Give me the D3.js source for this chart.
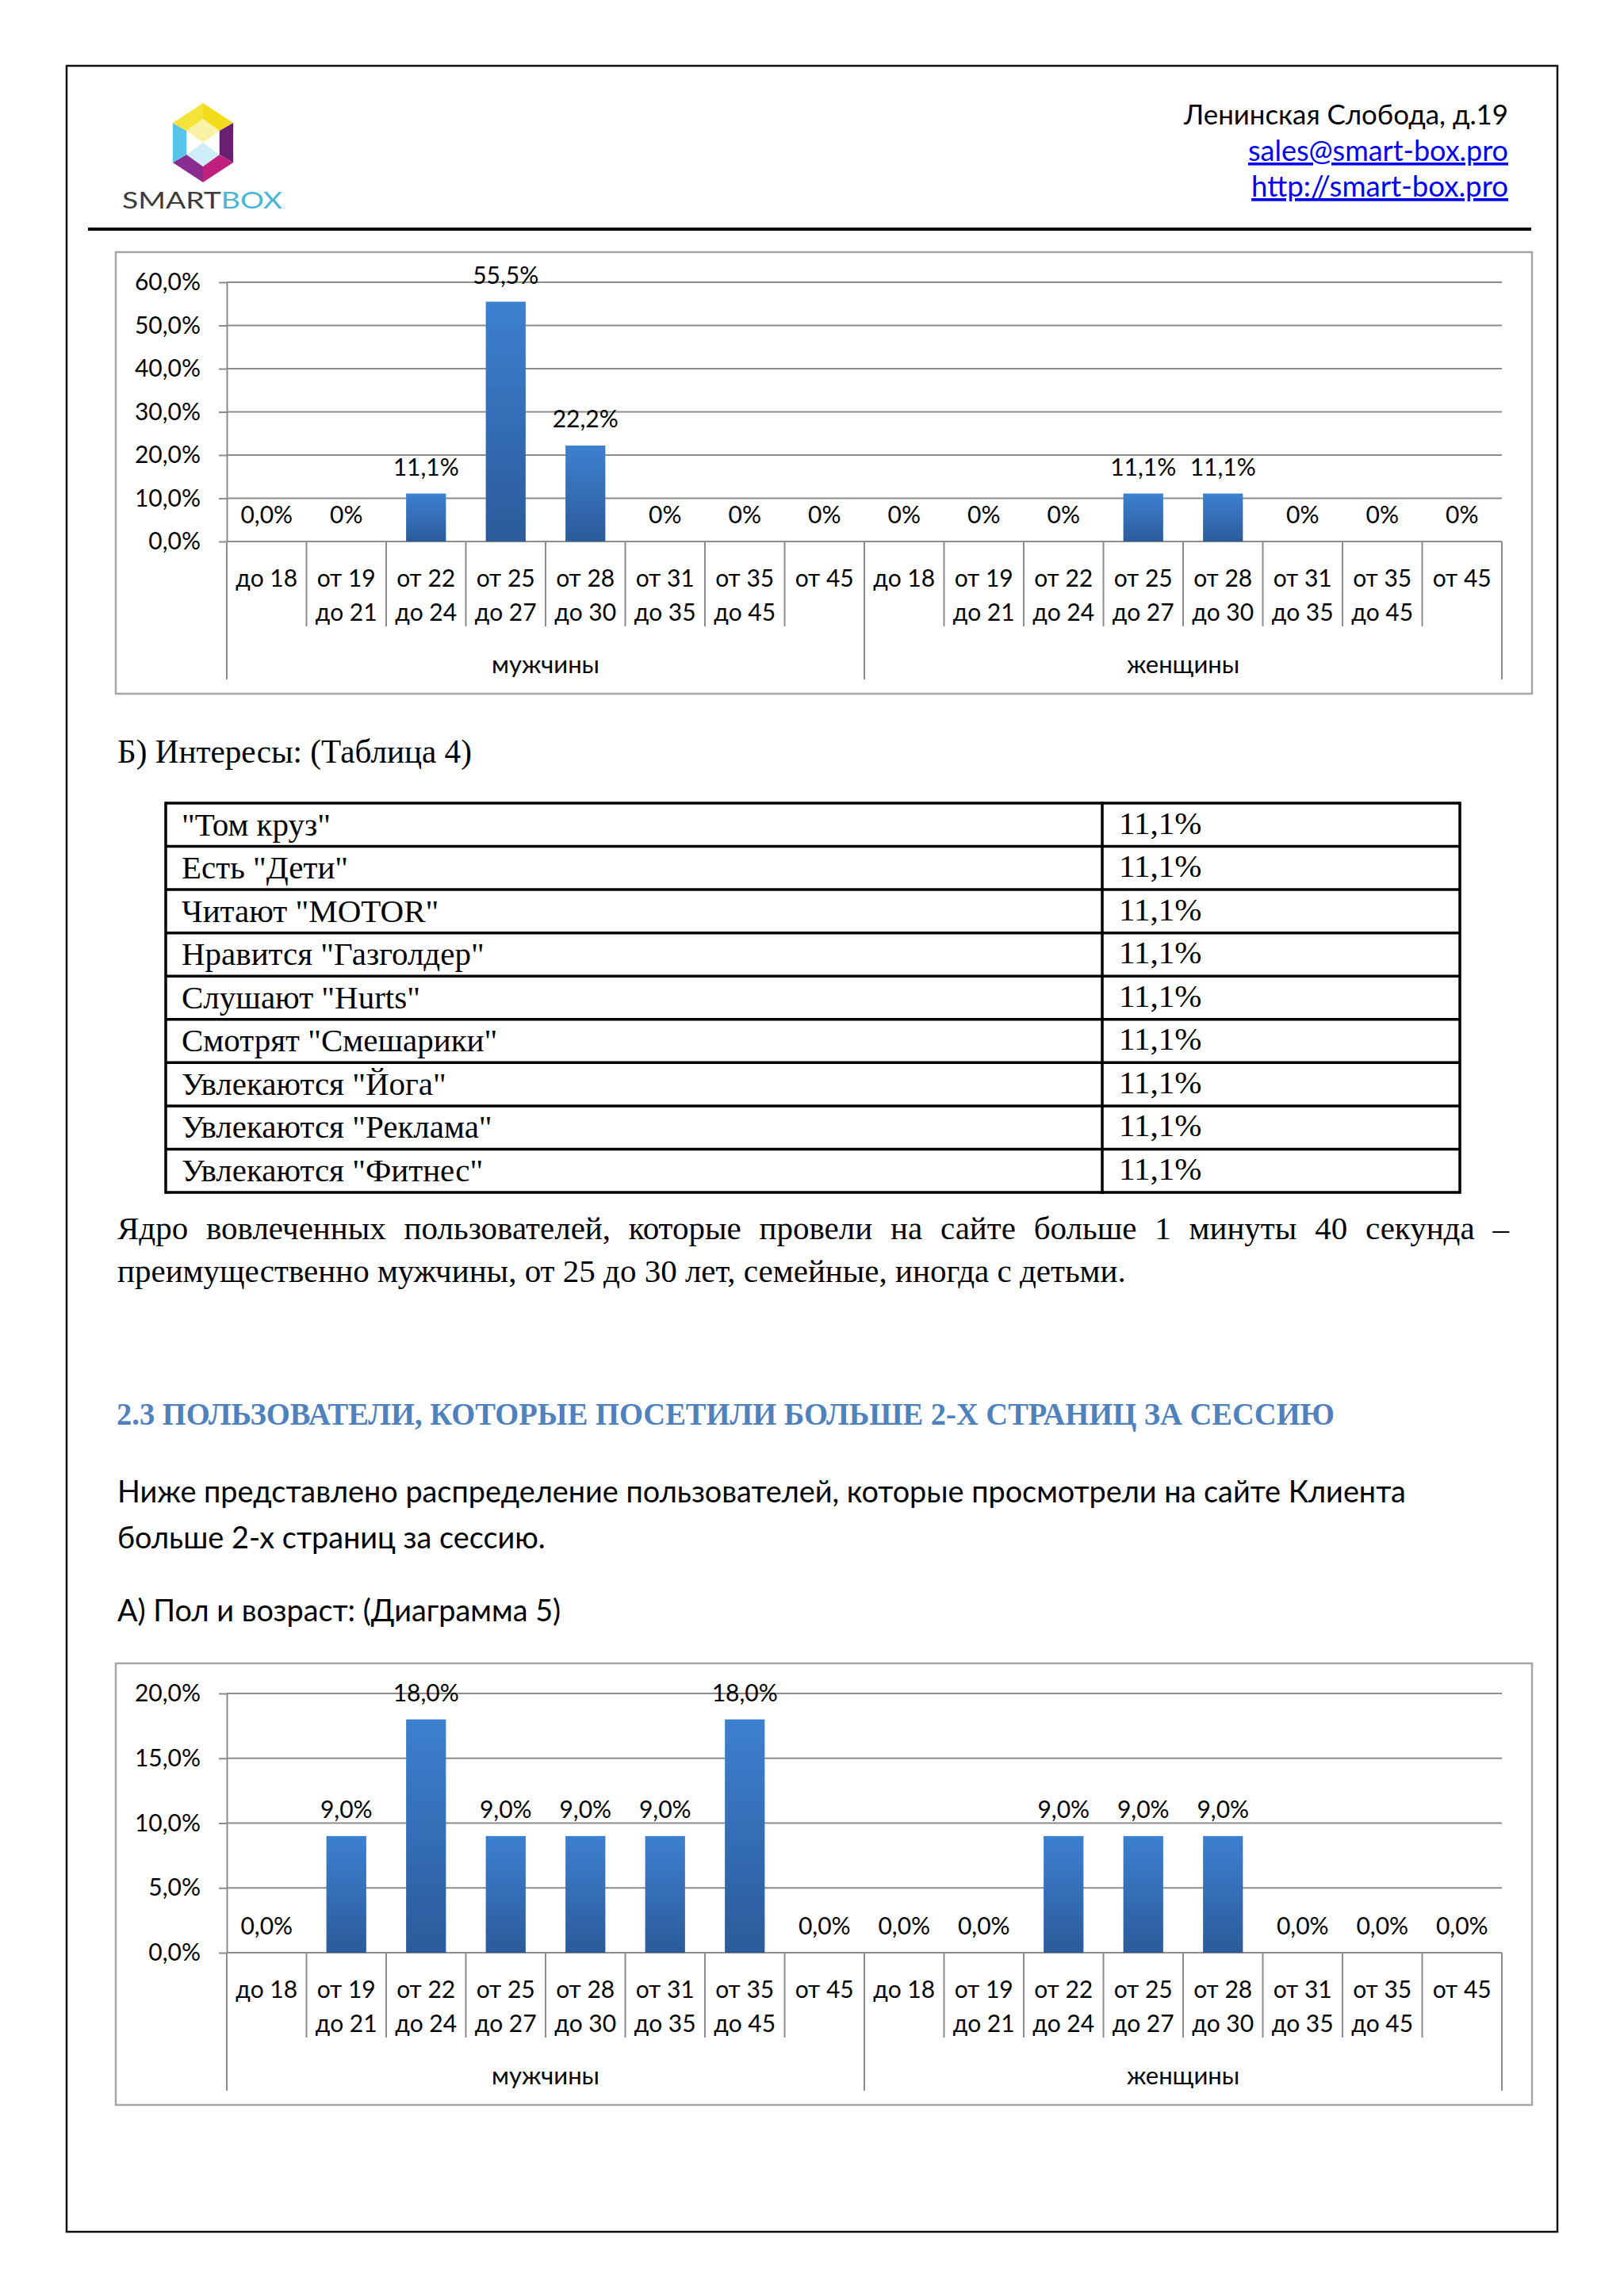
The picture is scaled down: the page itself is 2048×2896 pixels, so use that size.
<!DOCTYPE html>
<html>
<head>
<meta charset="utf-8">
<script src="https://cdn.jsdelivr.net/npm/d3@7"></script>
<style>
  body { margin: 0; background: #fff; }
  svg { display: block; }
</style>
</head>
<body>
<script>
// ---- data ----
const ageLabels = [["до 18"], ["от 19", "до 21"], ["от 22", "до 24"], ["от 25", "до 27"],
                   ["от 28", "до 30"], ["от 31", "до 35"], ["от 35", "до 45"], ["от 45"]];
const groups = ["мужчины", "женщины"];

// Диаграмма 4 (время на сайте > 1:40)
const chart4Men = [0, 0, 11.1, 55.5, 22.2, 0, 0, 0];
const chart4Women = [0, 0, 0, 11.1, 11.1, 0, 0, 0];
const chart4MenLabels = ["0,0%", "0%", "11,1%", "55,5%", "22,2%", "0%", "0%", "0%"];
const chart4WomenLabels = ["0%", "0%", "0%", "11,1%", "11,1%", "0%", "0%", "0%"];
const chart4Ticks = [0, 10, 20, 30, 40, 50, 60];

// Диаграмма 5 (больше 2-х страниц)
const chart5Men = [0, 9, 18, 9, 9, 9, 18, 0];
const chart5Women = [0, 0, 9, 9, 9, 0, 0, 0];
const chart5Ticks = [0, 5, 10, 15, 20];

// Таблица 4
const interests = ['"Том круз"', 'Есть "Дети"', 'Читают "MOTOR"', 'Нравится "Газголдер"',
                   'Слушают "Hurts"', 'Смотрят "Смешарики"', 'Увлекаются "Йога"',
                   'Увлекаются "Реклама"', 'Увлекаются "Фитнес"'];
const interestShares = [11.1, 11.1, 11.1, 11.1, 11.1, 11.1, 11.1, 11.1, 11.1];

const pct = v => d3.format(".1f")(v).replace(".", ",") + "%";

// ---- page ----
const W = 2048, H = 2896;
const SANS = "Lato, 'Open Sans', sans-serif";
const SERIF = "'Liberation Serif', 'DejaVu Serif', serif";
const CHART_FS = 30;

const svg = d3.select("body").append("svg")
  .attr("width", W)
  .attr("height", H);

// подгоняет размер шрифта под нужную ширину строки
const fitWidth = (sel, target) => {
  const w = sel.node().getComputedTextLength();
  const fs = +sel.attr("font-size");
  sel.attr("font-size", (fs * target / w).toFixed(2));
  return +sel.attr("font-size");
};

// выравнивание по ширине за счёт пробелов
const justify = (sel, target) => {
  const w = sel.node().getComputedTextLength();
  const spaces = (sel.text().match(/ /g) || []).length;
  if (spaces) sel.attr("word-spacing", ((target - w) / spaces).toFixed(2));
};

const defs = svg.append("defs");
const grad = defs.append("linearGradient")
  .attr("id", "barGrad")
  .attr("x1", 0).attr("y1", 0).attr("x2", 0).attr("y2", 1);
grad.append("stop").attr("offset", "0%").attr("stop-color", "#3d80d0");
grad.append("stop").attr("offset", "100%").attr("stop-color", "#2b5b9a");

// page border
svg.append("rect")
  .attr("x", 84).attr("y", 83)
  .attr("width", 1880).attr("height", 2732)
  .attr("fill", "none")
  .attr("stroke", "#111")
  .attr("stroke-width", 2.5);

// ---- header ----
const drawLogo = () => {
  const g = svg.append("g").attr("transform", "translate(256,180)");
  const R = 50, r = 30;
  const outer = d3.range(6).map(i => {
    const a = Math.PI / 180 * (60 * i - 90);
    return [R * 0.88 * Math.cos(a), R * Math.sin(a)];
  });
  const inner = d3.range(6).map(i => {
    const a = Math.PI / 180 * (60 * i - 90);
    return [r * 0.8 * Math.cos(a), r * Math.sin(a)];
  });
  const colors = ["#f2dc1c", "#6b1f73", "#c0207d", "#8a2c8f", "#58c3ec", "#f4e43a"];
  colors.forEach((c, i) => {
    const j = (i + 1) % 6;
    g.append("path")
      .attr("d", d3.line()([outer[i], outer[j], inner[j], inner[i]]) + "Z")
      .attr("fill", c);
  });
  g.append("path")
    .attr("d", d3.line()([inner[5], inner[0], inner[1], [0, 0]]) + "Z")
    .attr("fill", "#f6e86a").attr("opacity", 0.6);
  g.append("path")
    .attr("d", d3.line()([inner[2], inner[3], inner[4], [0, 0]]) + "Z")
    .attr("fill", "#9fdcf3").attr("opacity", 0.5);

  const t = svg.append("text")
    .attr("x", 154).attr("y", 263)
    .attr("font-family", SANS)
    .attr("font-size", 29)
    .attr("textLength", 202)
    .attr("lengthAdjust", "spacingAndGlyphs");
  t.append("tspan").attr("fill", "#3b3b3b").text("SMART");
  t.append("tspan").attr("fill", "#49b6d6").text("BOX");
};
drawLogo();

const headerLines = [
  {text: "Ленинская Слобода, д.19", y: 157, color: "#000", link: false, w: 409},
  {text: "sales@smart-box.pro", y: 203, color: "#0000ee", link: true, w: 328},
  {text: "http://smart-box.pro", y: 248, color: "#0000ee", link: true, w: 324}
];
headerLines.forEach(d => {
  const t = svg.append("text")
    .attr("x", 1902).attr("y", d.y)
    .attr("text-anchor", "end")
    .attr("font-family", SANS)
    .attr("font-size", 33)
    .attr("fill", d.color)
    .attr("text-decoration", d.link ? "underline" : null)
    .text(d.text);
  fitWidth(t, d.w);
});

svg.append("line")
  .attr("x1", 111).attr("x2", 1931)
  .attr("y1", 289).attr("y2", 289)
  .attr("stroke", "#000")
  .attr("stroke-width", 4);

// ---- bar chart ----
const plotLeft = 286, plotRight = 1894;

const drawChart = (top, men, women, menLabels, womenLabels, ticks) => {
  const g = svg.append("g");
  const baseY = top + 365;

  g.append("rect")
    .attr("x", 146).attr("y", top)
    .attr("width", 1786).attr("height", 557)
    .attr("fill", "none")
    .attr("stroke", "#a6a6a6")
    .attr("stroke-width", 2.5);

  const values = men.concat(women);
  const labels = menLabels.concat(womenLabels);
  const cats = d3.range(values.length);

  const y = d3.scaleLinear()
    .domain([0, d3.max(ticks)])
    .range([baseY, top + 38]);

  const x = d3.scaleBand()
    .domain(cats)
    .range([plotLeft, plotRight]);

  // gridlines
  g.selectAll("line.grid")
    .data(ticks).enter()
    .append("line")
    .attr("x1", plotLeft).attr("x2", plotRight)
    .attr("y1", d => y(d)).attr("y2", d => y(d))
    .attr("stroke", "#8c8c8c")
    .attr("stroke-width", 2);

  // y axis
  const yAxis = g.append("g")
    .attr("transform", `translate(${plotLeft},0)`)
    .call(d3.axisLeft(y)
      .tickValues(ticks)
      .tickFormat(pct)
      .tickSize(10)
      .tickSizeOuter(0)
      .tickPadding(23));
  yAxis.selectAll("path, line")
    .attr("stroke", "#8c8c8c")
    .attr("stroke-width", 2);
  yAxis.selectAll("text")
    .attr("font-family", SANS)
    .attr("font-size", CHART_FS)
    .attr("fill", "#000");

  // category separators below axis
  const seps = d3.range(values.length + 1);
  g.selectAll("line.sep")
    .data(seps).enter()
    .append("line")
    .attr("x1", d => d < values.length ? x(d) : plotRight)
    .attr("x2", d => d < values.length ? x(d) : plotRight)
    .attr("y1", baseY)
    .attr("y2", d => baseY + (d % men.length === 0 ? 174 : 107))
    .attr("stroke", "#8c8c8c")
    .attr("stroke-width", 2);

  // bars
  const bw = x.bandwidth();
  g.selectAll("rect.bar")
    .data(values).enter()
    .append("rect")
    .attr("x", (d, i) => x(i) + bw * 0.25)
    .attr("width", bw * 0.5)
    .attr("y", d => y(d))
    .attr("height", d => baseY - y(d))
    .attr("fill", "url(#barGrad)");

  // value labels
  g.selectAll("text.val")
    .data(values).enter()
    .append("text")
    .attr("x", (d, i) => x(i) + bw / 2)
    .attr("y", d => y(d) - 35)
    .attr("text-anchor", "middle")
    .attr("dominant-baseline", "central")
    .attr("font-family", SANS)
    .attr("font-size", CHART_FS)
    .attr("fill", "#000")
    .text((d, i) => labels[i]);

  // category labels
  cats.forEach(i => {
    const lines = ageLabels[i % ageLabels.length];
    lines.forEach((t, k) => {
      g.append("text")
        .attr("x", x(i) + bw / 2)
        .attr("y", baseY + 45 + k * 43)
        .attr("text-anchor", "middle")
        .attr("dominant-baseline", "central")
        .attr("font-family", SANS)
        .attr("font-size", CHART_FS)
        .attr("fill", "#000")
        .text(t);
    });
  });

  // group labels
  groups.forEach((name, k) => {
    const first = x(k * men.length);
    const last = x((k + 1) * men.length - 1) + bw;
    g.append("text")
      .attr("x", (first + last) / 2)
      .attr("y", baseY + 154)
      .attr("text-anchor", "middle")
      .attr("dominant-baseline", "central")
      .attr("font-family", SANS)
      .attr("font-size", CHART_FS + 1)
      .attr("fill", "#000")
      .text(name);
  });
};

drawChart(318, chart4Men, chart4Women, chart4MenLabels, chart4WomenLabels, chart4Ticks);

// ---- Б) Интересы ----
const subTitle = svg.append("text")
  .attr("x", 148).attr("y", 962)
  .attr("font-family", SERIF)
  .attr("font-size", 40)
  .text("Б) Интересы: (Таблица 4)");
fitWidth(subTitle, 447);

const tableTop = 1013, tableBottom = 1504;
const rowH = (tableBottom - tableTop) / interests.length;
const table = svg.append("g");
interests.forEach((name, i) => {
  const yTop = tableTop + i * rowH;
  table.append("text")
    .attr("x", 229).attr("y", yTop + rowH - 14)
    .attr("font-family", SERIF)
    .attr("font-size", 41)
    .text(name);
  table.append("text")
    .attr("x", 1411).attr("y", yTop + rowH - 16)
    .attr("font-family", SERIF)
    .attr("font-size", 41)
    .text(pct(interestShares[i]));
});
d3.range(interests.length + 1).forEach(i => {
  table.append("line")
    .attr("x1", 209).attr("x2", 1841)
    .attr("y1", tableTop + i * rowH).attr("y2", tableTop + i * rowH)
    .attr("stroke", "#000").attr("stroke-width", 3.5);
});
[209, 1390, 1841].forEach(xv => {
  table.append("line")
    .attr("x1", xv).attr("x2", xv)
    .attr("y1", tableTop - 1.75).attr("y2", tableBottom + 1.75)
    .attr("stroke", "#000").attr("stroke-width", 3.5);
});

const core1 = svg.append("text")
  .attr("x", 148).attr("y", 1563)
  .attr("font-family", SERIF)
  .attr("font-size", 41)
  .text("Ядро вовлеченных пользователей, которые провели на сайте больше 1 минуты 40 секунда –");
justify(core1, 1755);
svg.append("text")
  .attr("x", 148).attr("y", 1617)
  .attr("font-family", SERIF)
  .attr("font-size", 41)
  .text("преимущественно мужчины, от 25 до 30 лет, семейные, иногда с детьми.");

// ---- 2.3 ----
svg.append("text")
  .attr("x", 147).attr("y", 1797)
  .attr("font-family", SERIF)
  .attr("font-weight", "bold")
  .attr("font-size", 39)
  .attr("fill", "#4f81bd")
  .attr("textLength", 1536)
  .attr("lengthAdjust", "spacingAndGlyphs")
  .text("2.3 ПОЛЬЗОВАТЕЛИ, КОТОРЫЕ ПОСЕТИЛИ БОЛЬШЕ 2-Х СТРАНИЦ ЗА СЕССИЮ");

const intro = svg.append("text")
  .attr("x", 148).attr("y", 1895)
  .attr("font-family", SANS)
  .attr("font-size", 33)
  .text("Ниже представлено распределение пользователей, которые просмотрели на сайте Клиента");
const bodyFs = fitWidth(intro, 1625);
svg.append("text")
  .attr("x", 148).attr("y", 1953)
  .attr("font-family", SANS)
  .attr("font-size", bodyFs)
  .text("больше 2-х страниц за сессию.");
svg.append("text")
  .attr("x", 148).attr("y", 2045)
  .attr("font-family", SANS)
  .attr("font-size", bodyFs)
  .text("А) Пол и возраст: (Диаграмма 5)");

drawChart(2098, chart5Men, chart5Women, chart5Men.map(pct), chart5Women.map(pct), chart5Ticks);
</script>
</body>
</html>
